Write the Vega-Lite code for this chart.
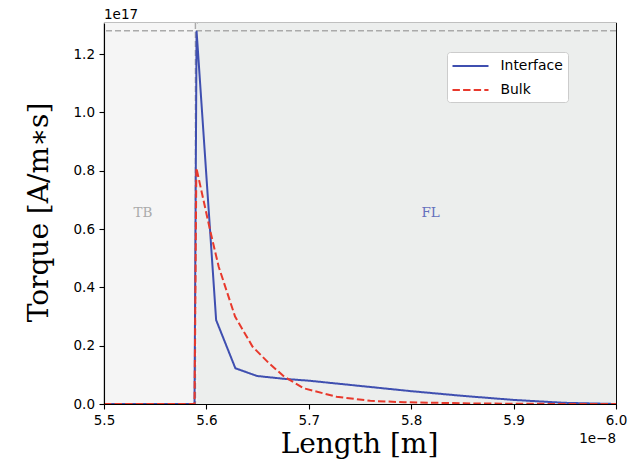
{
  "$schema": "https://vega.github.io/schema/vega-lite/v6.json",
  "width": 512,
  "height": 381,
  "autosize": {"type": "none"},
  "padding": {"left": 104, "top": 23, "right": 24, "bottom": 58},
  "background": "white",
  "config": {
    "view": {"stroke": "black", "strokeWidth": 1.1},
    "font": "DejaVu Sans"
  },
  "datasets": {
    "regions": [
      {"region": "TB", "start": 5.5, "end": 5.591},
      {"region": "FL", "start": 5.591, "end": 6.0}
    ],
    "torque": [
      {"series": "Interface", "length": 5.5, "torque": 0},
      {"series": "Interface", "length": 5.5884, "torque": 0},
      {"series": "Interface", "length": 5.5904, "torque": 1.28},
      {"series": "Interface", "length": 5.6095, "torque": 0.288},
      {"series": "Interface", "length": 5.6283, "torque": 0.1225},
      {"series": "Interface", "length": 5.6496, "torque": 0.096},
      {"series": "Interface", "length": 5.677, "torque": 0.086},
      {"series": "Interface", "length": 5.70, "torque": 0.080},
      {"series": "Interface", "length": 5.75, "torque": 0.062},
      {"series": "Interface", "length": 5.80, "torque": 0.044},
      {"series": "Interface", "length": 5.85, "torque": 0.028},
      {"series": "Interface", "length": 5.90, "torque": 0.014},
      {"series": "Interface", "length": 5.95, "torque": 0.004},
      {"series": "Interface", "length": 6.0, "torque": 0},
      {"series": "Bulk", "length": 5.5, "torque": 0},
      {"series": "Bulk", "length": 5.5884, "torque": 0},
      {"series": "Bulk", "length": 5.5902, "torque": 0.81},
      {"series": "Bulk", "length": 5.604, "torque": 0.59},
      {"series": "Bulk", "length": 5.612, "torque": 0.471},
      {"series": "Bulk", "length": 5.628, "torque": 0.30},
      {"series": "Bulk", "length": 5.645, "torque": 0.197},
      {"series": "Bulk", "length": 5.661, "torque": 0.14},
      {"series": "Bulk", "length": 5.676, "torque": 0.094},
      {"series": "Bulk", "length": 5.695, "torque": 0.054},
      {"series": "Bulk", "length": 5.727, "torque": 0.025},
      {"series": "Bulk", "length": 5.76, "torque": 0.011},
      {"series": "Bulk", "length": 5.793, "torque": 0.006},
      {"series": "Bulk", "length": 5.858, "torque": 0.002},
      {"series": "Bulk", "length": 5.92, "torque": 0.0005},
      {"series": "Bulk", "length": 6.0, "torque": 0}
    ]
  },
  "layer": [
    {
      "data": {"name": "regions"},
      "mark": {"type": "rect"},
      "encoding": {
        "x": {
          "field": "start", "type": "quantitative",
          "scale": {"domain": [5.5, 6.0], "nice": false, "zero": false},
          "axis": {
            "values": [5.5, 5.6, 5.7, 5.8, 5.9, 6.0], "format": ".1f",
            "title": "Length [m]", "titleFont": "DejaVu Serif", "titleFontSize": 28, "titleFontWeight": "normal", "titleColor": "black",
            "titleX": 255, "titleY": 48, "titleBaseline": "alphabetic", "titleAlign": "center", "titleAnchor": null,
            "labelFont": "DejaVu Sans", "labelFontSize": 13.5, "labelColor": "black", "labelPadding": 4.5,
            "labelFlush": false, "labelOverlap": false,
            "tickColor": "black", "tickSize": 5, "tickWidth": 1.1,
            "domainColor": "black", "domainWidth": 1.1, "grid": false, "zindex": 1
          }
        },
        "x2": {"field": "end"},
        "y": {
          "datum": 0, "type": "quantitative",
          "scale": {"domain": [0, 1.307], "nice": false, "zero": false},
          "axis": {
            "values": [0, 0.2, 0.4, 0.6, 0.8, 1.0, 1.2], "format": ".1f",
            "title": "Torque [A/m∗s]", "titleFont": "DejaVu Serif", "titleFontSize": 28, "titleFontWeight": "normal", "titleColor": "black",
            "titleX": -57, "titleY": 189, "titleAngle": -90, "titleBaseline": "alphabetic", "titleAlign": "center", "titleAnchor": null,
            "labelFont": "DejaVu Sans", "labelFontSize": 13.5, "labelColor": "black", "labelPadding": 4.5,
            "labelFlush": false, "labelOverlap": false,
            "tickColor": "black", "tickSize": 5, "tickWidth": 1.1,
            "domainColor": "black", "domainWidth": 1.1, "grid": false, "zindex": 1
          }
        },
        "y2": {"datum": 1.307},
        "fill": {"field": "region", "type": "nominal", "scale": {"domain": ["TB", "FL"], "range": ["#f5f5f5", "#eceeed"]}, "legend": null}
      }
    },
    {
      "data": {"values": [{"level": 1.28}]},
      "mark": {"type": "rule", "color": "#aaaaaa", "strokeWidth": 1.5, "strokeDash": [6, 3]},
      "encoding": {"y": {"field": "level", "type": "quantitative"}}
    },
    {
      "data": {"values": [{"boundary": 5.5893}]},
      "mark": {"type": "rule", "color": "#aaaaaa", "strokeWidth": 1.5, "strokeDash": [6, 3]},
      "encoding": {"x": {"field": "boundary", "type": "quantitative"}}
    },
    {
      "data": {"values": [{"label": "TB", "length": 5.538, "torque": 0.655}]},
      "mark": {"type": "text", "font": "DejaVu Serif", "fontSize": 13.5, "color": "#aaaaaa", "align": "center", "baseline": "middle"},
      "encoding": {
        "x": {"field": "length", "type": "quantitative"},
        "y": {"field": "torque", "type": "quantitative"},
        "text": {"field": "label"}
      }
    },
    {
      "data": {"values": [{"label": "FL", "length": 5.819, "torque": 0.655}]},
      "mark": {"type": "text", "font": "DejaVu Serif", "fontSize": 13.5, "color": "#6470bd", "align": "center", "baseline": "middle"},
      "encoding": {
        "x": {"field": "length", "type": "quantitative"},
        "y": {"field": "torque", "type": "quantitative"},
        "text": {"field": "label"}
      }
    },
    {
      "data": {"name": "torque"},
      "mark": {"type": "line", "strokeWidth": 2},
      "encoding": {
        "x": {"field": "length", "type": "quantitative"},
        "y": {"field": "torque", "type": "quantitative"},
        "color": {
          "field": "series", "type": "nominal",
          "scale": {"domain": ["Interface", "Bulk"], "range": ["#3f4fb0", "#e8392c"]},
          "legend": {
            "title": null, "orient": "none", "legendX": 343, "legendY": 29,
            "fillColor": "white", "strokeColor": "#cccccc", "cornerRadius": 3, "padding": 5,
            "labelFont": "DejaVu Sans", "labelFontSize": 13.9, "labelColor": "black", "labelOffset": 21,
            "symbolType": "M-2.25,0H2.25", "symbolSize": 256, "symbolOffset": 9.5, "symbolStrokeWidth": 2, "rowPadding": 8
          }
        },
        "strokeDash": {
          "field": "series", "type": "nominal",
          "scale": {"domain": ["Interface", "Bulk"], "range": [[1, 0], [7.4, 3.2]]},
          "legend": {
            "title": null, "orient": "none", "legendX": 343, "legendY": 29,
            "fillColor": "white", "strokeColor": "#cccccc", "cornerRadius": 3, "padding": 5,
            "labelFont": "DejaVu Sans", "labelFontSize": 13.9, "labelColor": "black", "labelOffset": 21,
            "symbolType": "M-2.25,0H2.25", "symbolSize": 256, "symbolOffset": 9.5, "symbolStrokeWidth": 2, "rowPadding": 8
          }
        }
      }
    },
    {
      "data": {"values": [{"label": "1e17", "length": 5.5, "torque": 1.321}]},
      "mark": {"type": "text", "font": "DejaVu Sans", "fontSize": 13.5, "color": "black", "align": "left", "baseline": "alphabetic"},
      "encoding": {
        "x": {"field": "length", "type": "quantitative"},
        "y": {"field": "torque", "type": "quantitative"},
        "text": {"field": "label"}
      }
    },
    {
      "data": {"values": [{"label": "1e−8", "length": 6.0, "torque": -0.134}]},
      "mark": {"type": "text", "font": "DejaVu Sans", "fontSize": 13.5, "color": "black", "align": "right", "baseline": "alphabetic"},
      "encoding": {
        "x": {"field": "length", "type": "quantitative"},
        "y": {"field": "torque", "type": "quantitative"},
        "text": {"field": "label"}
      }
    }
  ]
}
